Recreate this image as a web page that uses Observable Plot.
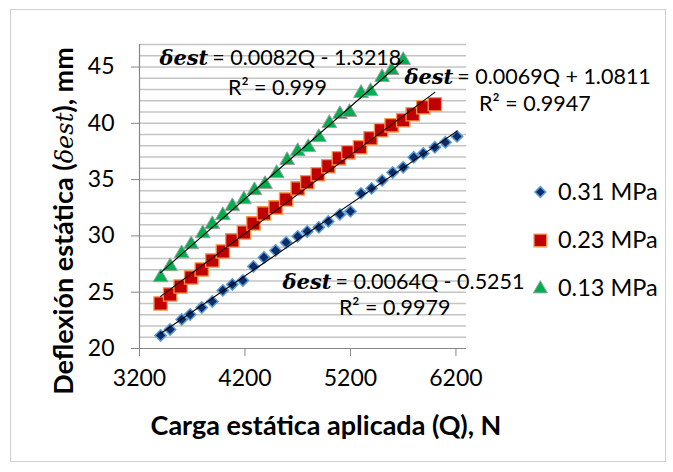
<!DOCTYPE html>
<html>
<head>
<meta charset="utf-8">
<script src="https://cdn.jsdelivr.net/npm/d3@7"></script>
<script src="https://cdn.jsdelivr.net/npm/@observablehq/plot@0.6"></script>
<style>
  html, body { margin: 0; padding: 0; background: #fff; }
  #chart { width: 673px; height: 472px; }
</style>
</head>
<body>
<div id="chart"></div>
<script>
// ---- data ----
const seriesNames = ["0.31 MPa", "0.23 MPa", "0.13 MPa"];

const blueQ = [3400, 3490, 3600, 3680, 3790, 3890, 3990, 4080, 4180, 4280, 4380, 4490, 4590, 4700, 4790, 4900, 4990, 5100, 5200, 5300, 5400, 5500, 5600, 5700, 5800, 5890, 6000, 6100, 6210];
const blueD = [21.16, 21.69, 22.58, 23.02, 23.64, 24.18, 25.16, 25.69, 26.04, 27.29, 28.09, 28.71, 29.42, 29.96, 30.40, 30.76, 31.29, 31.91, 32.18, 33.78, 34.22, 34.93, 35.64, 36.09, 36.98, 37.33, 37.87, 38.31, 38.84];

const redQ = [3400, 3490, 3590, 3690, 3790, 3890, 3990, 4080, 4190, 4280, 4380, 4490, 4590, 4700, 4790, 4890, 4990, 5090, 5180, 5290, 5390, 5490, 5590, 5700, 5790, 5890, 6000];
const redD = [24.00, 24.80, 25.51, 26.31, 27.02, 27.82, 28.62, 29.60, 30.31, 31.11, 32.00, 32.53, 33.24, 34.22, 34.76, 35.47, 36.18, 36.89, 37.42, 37.87, 38.67, 39.38, 39.82, 40.27, 40.80, 41.42, 41.69];

const greenQ = [3400, 3490, 3600, 3690, 3800, 3890, 3990, 4080, 4190, 4290, 4390, 4500, 4600, 4700, 4800, 4900, 5000, 5100, 5190, 5300, 5390, 5500, 5590, 5700];
const greenD = [26.31, 27.29, 28.44, 29.24, 30.22, 31.02, 31.82, 32.62, 33.24, 34.04, 34.58, 35.56, 36.71, 37.51, 37.87, 38.76, 40.00, 40.80, 40.98, 42.67, 42.84, 44.09, 44.71, 45.60];

const xTicks = [3200, 4200, 5200, 6200];
const yTicks = [20, 25, 30, 35, 40, 45];

const eqLead = "δest";
const eqText = ["= 0.0064Q - 0.5251", "= 0.0069Q + 1.0811", "= 0.0082Q - 1.3218"];
const r2Text = ["R² = 0.9979", "R² = 0.9947", "R² = 0.999"];
// label anchor positions, in data units
const eqQ = [5020, 6175, 3852];
const eqD = [25.9, 44.12, 45.78];
const r2Q = [5619, 6948, 4508];
const r2D = [23.56, 41.69, 43.11];

const legendQ = 7000;
const legendTextQ = 7167;
const legendD = [33.9, 29.6, 25.3];

const xTitle = "Carga estática aplicada (Q), N";
const yTitleParts = ["Deflexión estática (", "δest", "), mm"];

// ---- build tables ----
const toRows = (Q, D) => Q.map((q, i) => ({Q: q, d: D[i]}));
const series = [
  {rows: toRows(blueQ, blueD), symbol: "diamond2", r: 5.1, fill: "#0c2d6a", stroke: "#5b9bd5", sw: 1.5},
  {rows: toRows(redQ, redD), symbol: "square", r: 7.5, fill: "#c00000", stroke: "#f79646", sw: 1.3},
  {rows: toRows(greenQ, greenD), symbol: "triangle", r: 5.5, fill: "#00b050", stroke: "#a0a0a0", sw: 1}
];

const marks = [
  Plot.ruleY(d3.range(21, 48), {stroke: "#c4c4c4", strokeWidth: 1.5}),
  Plot.ruleX([3200], {stroke: "#868686", strokeWidth: 1.2}),
  Plot.ruleY([20], {stroke: "#868686", strokeWidth: 1.2}),
  Plot.axisY({ticks: yTicks, tickSize: 8, tickPadding: 17, label: null, stroke: "#868686", color: "#000", fontSize: 23}),
  Plot.axisX({ticks: xTicks, tickSize: 8, tickPadding: 13, label: null, stroke: "#868686", color: "#000", fontSize: 23, tickFormat: d => String(d)})
];

series.forEach((s, i) => {
  marks.push(Plot.dot(s.rows, {x: "Q", y: "d", symbol: s.symbol, r: s.r, fill: s.fill, stroke: s.stroke, strokeWidth: s.sw}));
});
series.forEach((s, i) => {
  marks.push(Plot.linearRegressionY(s.rows, {x: "Q", y: "d", stroke: "#000", strokeWidth: 1.1, ci: 0}));
});
series.forEach((s, i) => {
  marks.push(Plot.text([0], {x: () => eqQ[i], y: () => eqD[i], text: () => eqLead, textAnchor: "end",
    fontFamily: "DejaVu Serif", fontWeight: "bold", fontStyle: "italic", fontSize: 21, fill: "#000"}));
  marks.push(Plot.text([0], {x: () => eqQ[i], y: () => eqD[i], text: () => eqText[i], textAnchor: "start", dx: 4,
    fontFamily: "Lato", fontSize: 21.5, fill: "#000"}));
  marks.push(Plot.text([0], {x: () => r2Q[i], y: () => r2D[i], text: () => r2Text[i], textAnchor: "middle",
    fontFamily: "Lato", fontSize: 21.5, fill: "#000"}));
  // legend
  marks.push(Plot.dot([0], {x: () => legendQ, y: () => legendD[i], symbol: s.symbol, r: s.r * 0.95, fill: s.fill, stroke: s.stroke, strokeWidth: s.sw}));
  marks.push(Plot.text([0], {x: () => legendTextQ, y: () => legendD[i], text: () => seriesNames[i], textAnchor: "start",
    fontFamily: "Lato", fontSize: 23.5, fill: "#000"}));
});

const svg = Plot.plot({
  width: 673,
  height: 472,
  marginLeft: 139,
  marginRight: 207,
  marginTop: 44,
  marginBottom: 124,
  x: {domain: [3200, 6300]},
  y: {domain: [20, 47]},
  style: {fontFamily: "Lato", fontSize: "23px", color: "#000", background: "#fff", overflow: "visible"},
  marks
});

const sel = d3.select(svg);
// outer chart border
sel.insert("rect", ":first-child")
  .attr("x", 10.5).attr("y", 9.5).attr("width", 655).attr("height", 452)
  .attr("fill", "none").attr("stroke", "#d0d0d0").attr("stroke-width", 1);

// x title
sel.append("text")
  .attr("x", 326).attr("y", 435)
  .attr("text-anchor", "middle")
  .attr("font-family", "Lato").attr("font-weight", "bold").attr("font-size", 27)
  .attr("fill", "#000")
  .text(xTitle);

// y title with italic δest
const yt = sel.append("text")
  .attr("transform", "translate(73,221) rotate(-90)")
  .attr("text-anchor", "middle")
  .attr("font-family", "Lato").attr("font-weight", "bold").attr("font-size", 27)
  .attr("fill", "#000");
yt.append("tspan").text(yTitleParts[0]);
yt.append("tspan").attr("font-family", "DejaVu Serif").attr("font-style", "italic").attr("font-weight", "normal").attr("font-size", 24).text(yTitleParts[1]);
yt.append("tspan").text(yTitleParts[2]);

document.getElementById("chart").appendChild(svg);
</script>
</body>
</html>
